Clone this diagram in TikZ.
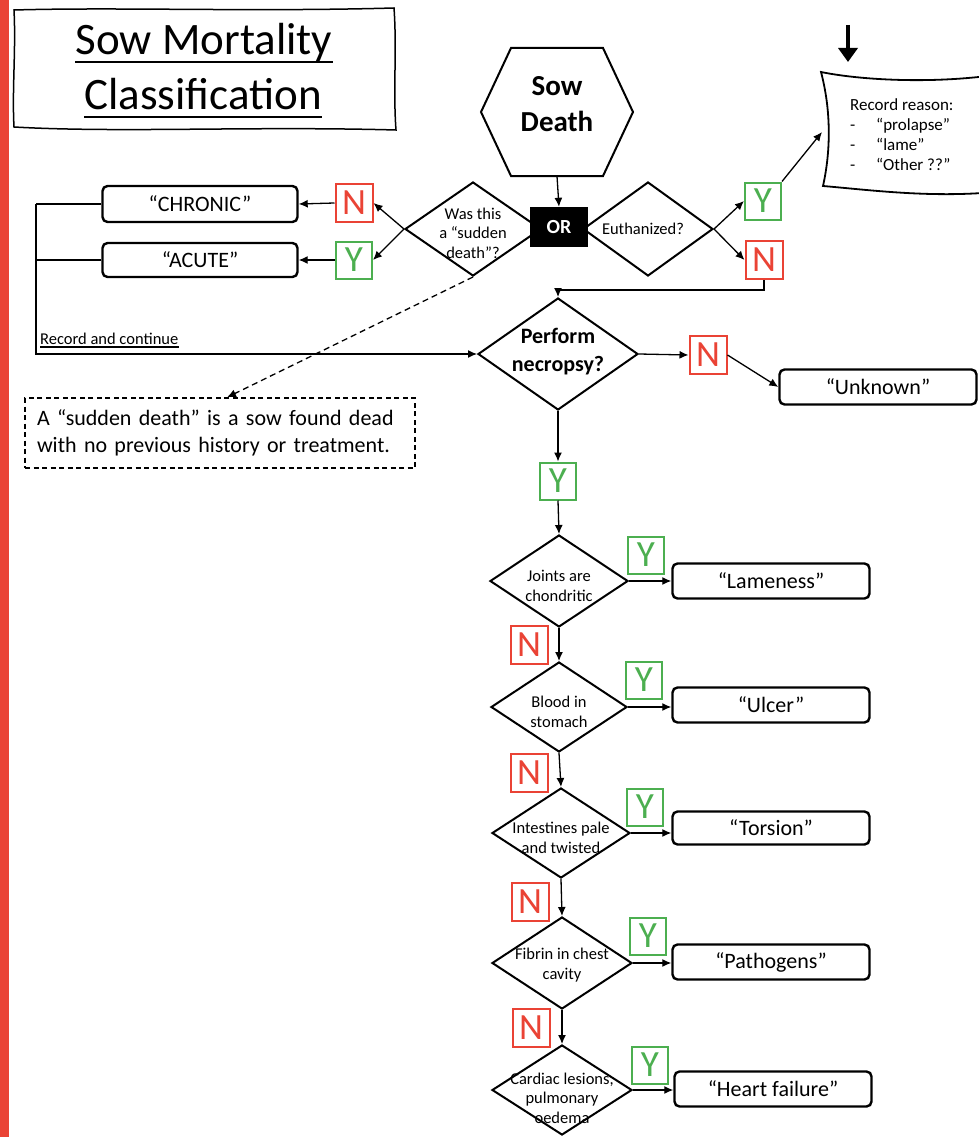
\documentclass[tikz,border=0pt]{standalone}
\usepackage{fontspec}
\setmainfont{Carlito}
\usetikzlibrary{shapes.geometric,arrows.meta,calc}
\definecolor{cred}{RGB}{234,67,53}
\definecolor{cgreen}{RGB}{76,175,80}
\tikzset{
  diam/.style={diamond, draw, line width=2pt, inner sep=0pt},
  dtext/.style={align=center, inner sep=0pt, font=\fontsize{16.5}{19.5}\selectfont},
  outbox/.style={draw, rounded corners=5pt, line width=2.4pt, minimum width=197pt, minimum height=35pt, inner sep=0pt, font=\fontsize{22}{26}\selectfont},
  ylab/.style={draw=cgreen, text=cgreen, line width=2pt, minimum width=36pt, minimum height=37pt, inner sep=0pt, font=\fontsize{37}{37}\selectfont},
  nlab/.style={draw=cred, text=cred, line width=2pt, minimum width=37pt, minimum height=38pt, inner sep=0pt, font=\fontsize{37}{37}\selectfont},
  arr/.style={-{Latex[length=9pt,width=8pt]}, line width=1.3pt},
  plain/.style={line width=1.2pt},
}
\begin{document}
\begin{tikzpicture}[x=1pt,y=-1pt]
\useasboundingbox (0,0) rectangle (978,1137);
\fill[white] (0,0) rectangle (978,1137);
\fill[cred] (0,0) rectangle (9,1137);

% title
\draw[line width=1.5pt] (14,10) .. controls (120,7) and (250,12) .. (394,8)
  .. controls (397,50) and (393,90) .. (396,130)
  .. controls (250,126) and (120,133) .. (14,127)
  .. controls (12,90) and (16,50) .. (14,10) -- cycle;
\node[anchor=base, inner sep=0pt, font=\fontsize{45}{50}\selectfont] (t1) at (204,55) {Sow Mortality};
\node[anchor=base, inner sep=0pt, font=\fontsize{45}{50}\selectfont] (t2) at (203,110) {Classification};
\draw[line width=2.6pt] ($(t1.base west)+(0,7)$) -- ($(t1.base east)+(0,7)$);
\draw[line width=2.6pt] ($(t2.base west)+(0,7)$) -- ($(t2.base east)+(0,7)$);

% Sow death hexagon
\node[minimum width=152pt, minimum height=128pt, inner sep=0pt] (hex) at (557,112) {};
\node[inner sep=0pt, align=center, font=\bfseries\fontsize{29}{36}\selectfont] (hext) at (557,104) {Sow\\Death};
\draw[line width=2pt] (481,112) -- (511,48) -- (603,48) -- (633,112) -- (603,176) -- (511,176) -- cycle;

% top decisions
\node[diam, minimum width=136pt, minimum height=94pt] (q0) at (473,229) {};
\node[dtext] (q0t) at (473,233) {Was this\\a “sudden\\death”?};
\node[diam, minimum width=130pt, minimum height=94pt] (qe) at (648,229) {};
\node[dtext] (qet) at (643,229) {Euthanized?};
\node[fill=black, minimum width=58pt, minimum height=40pt, inner sep=0pt, text=white,
      font=\bfseries\fontsize{20}{20}\selectfont] (or) at (559,227) {OR};
\draw[arr] (hex.south) -- (or.north);

% left branch
\node[nlab] (n1) at (354,203) {N};
\node[ylab] (y1) at (354,260) {Y};
\node[outbox, minimum width=195pt, minimum height=36pt] (chronic) at (200,204) {“CHRONIC”};
\node[outbox, minimum width=195pt, minimum height=34pt] (acute) at (200,260) {“ACUTE”};
\draw[arr] (q0.west) -- (n1.east);
\draw[arr] (q0.west) -- (y1.east);
\draw[arr] (n1.west) -- (chronic.east);
\draw[arr] (y1.west) -- (acute.east);

% right branch
\node[ylab] (y0) at (763,201) {Y};
\node[nlab] (n0) at (764,260) {N};
\draw[arr] (qe.east) -- (y0.west);
\draw[arr] (qe.east) -- (n0.west);

% record box
\draw[line width=1.8pt] (821,72) .. controls (860,80) and (930,84) .. (995,75)
  -- (995,192) .. controls (930,198) and (870,190) .. (823,186)
  .. controls (831,150) and (831,110) .. (821,72) -- cycle;
\node[anchor=west, inner sep=0pt, align=left, font=\fontsize{17}{20}\selectfont] (rec) at (850,135)
  {Record reason:\\\makebox[26pt][l]{-}“prolapse”\\\makebox[26pt][l]{-}“lame”\\\makebox[26pt][l]{-}“Other ??”};
\coordinate (recin) at (822,132);
\draw[arr] (y0.north east) -- (recin);
\coordinate (ta) at (848,25);
\coordinate (tb) at (848,62);
\draw[line width=4pt, -{Triangle[length=14pt,width=19pt]}] (ta) -- (tb);

% perform necropsy
\node[diam, minimum width=160pt, minimum height=112pt] (pn) at (558,354) {};
\node[dtext, font=\bfseries\fontsize{22}{28}\selectfont] (pnt) at (558,352) {Perform\\necropsy?};
\draw[arr] (n0.south) -- ++(0,10) -| (pn.north);

% record and continue
\coordinate (lt) at (36,204);
\coordinate (lm) at (36,260);
\coordinate (lb) at (36,354);
\draw[plain] (chronic.west) -- (lt);
\draw[plain] (acute.west) -- (lm);
\draw[arr, line width=1.2pt] (lt) -- (lb) -- (pn.west);
\node[anchor=base west, inner sep=0pt, font=\fontsize{16.5}{18}\selectfont] (rc) at (40,344) {Record and continue};
\draw[line width=1.4pt] ($(rc.base west)+(0,3)$) -- ($(rc.base east)+(0,3)$);

% sudden death note
\node[draw, dash pattern=on 5pt off 3.5pt, line width=1.3pt, minimum width=390pt, minimum height=70pt, inner sep=0pt,
      text width=366pt, align=left, font=\fontsize{22}{27}\selectfont] (note) at (220,433)
  {A “sudden death” is a sow found dead\\with no previous history or treatment.};
\draw[arr, dash pattern=on 6pt off 4pt] (q0.south) -- ([xshift=7pt]note.north);

% unknown
\node[nlab] (n2) at (708,355) {N};
\node[outbox] (unk) at (878,387) {“Unknown”};
\draw[arr] (pn.east) -- (n2.west);
\draw[arr] (n2.east) -- (unk.west);
\node[ylab] (y2) at (558,481) {Y};
\draw[arr] (pn.south) -- (y2.north);

% chain
\node[diam, minimum width=138pt, minimum height=92pt] (q1) at (559,581) {};
\node[dtext] (q1t) at (559,586) {Joints are\\chondritic};
\node[diam, minimum width=136pt, minimum height=90pt] (q2) at (559,707) {};
\node[dtext] (q2t) at (559,712) {Blood in\\stomach};
\node[diam, minimum width=138pt, minimum height=90pt] (q3) at (561,833) {};
\node[dtext] (q3t) at (561,838) {Intestines pale\\and twisted};
\node[diam, minimum width=140pt, minimum height=92pt] (q4) at (562,963) {};
\node[dtext] (q4t) at (562,965) {Fibrin in chest\\cavity};
\node[diam, minimum width=140pt, minimum height=90pt] (q5) at (562,1090) {};
\node[dtext] (q5t) at (562,1098) {Cardiac lesions,\\pulmonary\\oedema};

\node[outbox] (lam) at (771,581) {“Lameness”};
\node[outbox] (ulc) at (771,705) {“Ulcer”};
\node[outbox, minimum height=33pt] (tor) at (771,828) {“Torsion”};
\node[outbox] (pat) at (771,962) {“Pathogens”};
\node[outbox] (hf) at (773,1089) {“Heart failure”};

\node[ylab] (y3) at (646,555) {Y};
\node[ylab] (y4) at (644,680) {Y};
\node[ylab] (y5) at (645,807) {Y};
\node[ylab] (y6) at (648,936) {Y};
\node[ylab] (y7) at (650,1065) {Y};
\node[nlab] (n3) at (529,645) {N};
\node[nlab] (n4) at (529,773) {N};
\node[nlab] (n5) at (530,902) {N};
\node[nlab] (n6) at (531,1028) {N};

\draw[arr] (y2.south) -- (q1.north);
\draw[arr] (q1.south) -- (q2.north);
\draw[arr] (q2.south) -- (q3.north);
\draw[arr] (q3.south) -- (q4.north);
\draw[arr] (q4.south) -- (q5.north);
\draw[arr] (q1.east) -- (q1.east -| lam.west);
\draw[arr] (q2.east) -- (q2.east -| ulc.west);
\draw[arr] (q3.east) -- (q3.east -| tor.west);
\draw[arr] (q4.east) -- (q4.east -| pat.west);
\draw[arr] (q5.east) -- (q5.east -| hf.west);
\end{tikzpicture}
\end{document}
